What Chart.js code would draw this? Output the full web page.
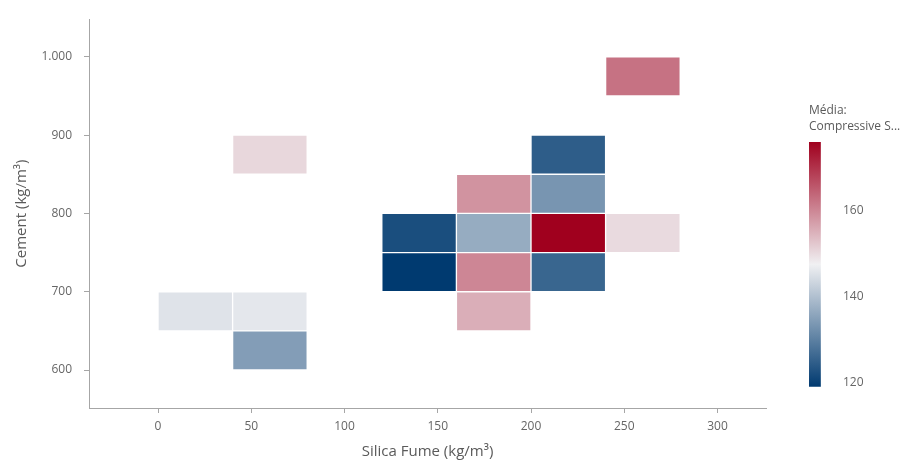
<!DOCTYPE html>
<html>
<head>
<meta charset="utf-8">
<script src="https://cdn.jsdelivr.net/npm/chart.js@4"></script>
<style>
  html, body { margin: 0; padding: 0; background: #ffffff; }
  #wrap { position: relative; width: 901px; height: 461px; background: #ffffff; }
  #main { position: absolute; left: 0; top: 0; }
  #bar { position: absolute; left: 790px; top: 95px; }
</style>
</head>
<body>
<div id="wrap">
  <canvas id="main" width="901" height="461"></canvas>
  <canvas id="bar" width="111" height="310"></canvas>
</div>
<script>
// ---- data ----
const silicaStart = [0, 40, 40, 40, 120, 120, 160, 160, 160, 160, 200, 200, 200, 200, 240, 240];
const cementStart = [650, 650, 600, 850, 750, 700, 800, 750, 700, 650, 850, 800, 750, 700, 750, 950];
const strengthMean = [145.5, 146.1, 134.6, 150.4, 122.2, 119.1, 158.5, 136.9, 160.0, 155.3, 124.5, 133.3, 175.9, 125.9, 150.1, 162.4];
const silicaBinWidth = 40;
const cementBinWidth = 50;
const xTickValues = [0, 50, 100, 150, 200, 250, 300];
const yTickValues = [600, 700, 800, 900, 1000];
const legendTickValues = [120, 140, 160];
const xAxisTitle = 'Silica Fume (kg/m³)';
const yAxisTitle = 'Cement (kg/m³)';
const legendTitle = ['Média:', 'Compressive S...'];

// ---- colour scale ----
const lowColor = [0, 58, 112];
const midColor = [240, 240, 242];
const highColor = [160, 0, 30];
const vMin = Math.min(...strengthMean);
const vMax = Math.max(...strengthMean);
const vMid = (vMin + vMax) / 2;

function mix(a, b, t) {
  return 'rgb(' + a.map((c, i) => Math.round(c + (b[i] - c) * t)).join(',') + ')';
}
function colorFor(v) {
  if (v <= vMid) return mix(midColor, lowColor, (vMid - v) / (vMid - vMin));
  return mix(midColor, highColor, (v - vMid) / (vMax - vMid));
}

const cells = silicaStart.map((s, i) => ({
  x: s + silicaBinWidth / 2,
  y: [cementStart[i], cementStart[i] + cementBinWidth]
}));
const cellColors = strengthMean.map(colorFor);

const FONT = "'Segoe UI', 'Open Sans', sans-serif";
const axisColor = '#a6a6a6';
const tickColor = '#666666';
const titleColor = '#5a5a5a';

function fmt(v) {
  return String(v).replace(/\B(?=(\d{3})+(?!\d))/g, '.');
}
const setTicks = values => scale => { scale.ticks = values.map(v => ({ value: v })); };

new Chart(document.getElementById('main'), {
  type: 'bar',
  data: {
    datasets: [{
      data: cells,
      backgroundColor: cellColors,
      borderColor: 'rgba(255,255,255,0.1)',
      borderWidth: 1,
      borderSkipped: false,
      barPercentage: 1,
      categoryPercentage: 1
    }]
  },
  options: {
    responsive: false,
    animation: false,
    events: [],
    layout: { padding: { top: 14, right: 135, left: 0, bottom: 0 } },
    plugins: { legend: { display: false }, tooltip: { enabled: false } },
    scales: {
      x: {
        type: 'linear',
        min: -37, max: 326,
        offset: false,
        afterBuildTicks: setTicks(xTickValues),
        grid: { display: true, offset: false, drawOnChartArea: false, drawTicks: true, tickLength: 5, color: axisColor },
        border: { display: true, color: axisColor, width: 1 },
        ticks: { color: tickColor, font: { family: FONT, size: 12 }, padding: 6, maxRotation: 0, autoSkip: false },
        title: { display: true, text: xAxisTitle, color: titleColor, font: { family: FONT, size: 15 }, padding: { top: 0, bottom: 0 } },
        afterFit: s => { s.height = 53; }
      },
      y: {
        type: 'linear',
        min: 551.5, max: 1048,
        afterBuildTicks: setTicks(yTickValues),
        grid: { display: true, drawOnChartArea: false, drawTicks: true, tickLength: 5, color: axisColor },
        border: { display: true, color: axisColor, width: 1 },
        ticks: { color: tickColor, font: { family: FONT, size: 12 }, padding: 12, autoSkip: false, callback: v => fmt(v) },
        title: { display: true, text: yAxisTitle, color: titleColor, font: { family: FONT, size: 15 }, padding: { top: 13, bottom: 0 } },
        afterFit: s => { s.width = 89; }
      }
    }
  }
});

// ---- colour bar legend ----
function barGradient(context) {
  const chart = context.chart;
  const area = chart.chartArea;
  if (!area) return 'rgb(240,240,242)';
  const y = chart.scales.y;
  const g = chart.ctx.createLinearGradient(0, y.getPixelForValue(vMin), 0, y.getPixelForValue(vMax));
  g.addColorStop(0, mix(lowColor, lowColor, 0));
  g.addColorStop(0.5, mix(midColor, midColor, 0));
  g.addColorStop(1, mix(highColor, highColor, 0));
  return g;
}

new Chart(document.getElementById('bar'), {
  type: 'bar',
  data: {
    labels: [''],
    datasets: [{
      data: [[vMin, vMax]],
      backgroundColor: barGradient,
      borderWidth: 0,
      barPercentage: 1,
      categoryPercentage: 1
    }]
  },
  options: {
    responsive: false,
    animation: false,
    events: [],
    layout: { padding: { top: 0, left: 19, right: 0, bottom: 14 } },
    plugins: {
      legend: { display: false },
      tooltip: { enabled: false },
      title: {
        display: true,
        text: legendTitle,
        align: 'start',
        color: titleColor,
        font: { family: FONT, size: 12, weight: 'normal', lineHeight: 1.33 },
        padding: { top: 8, bottom: 7 }
      }
    },
    scales: {
      x: { display: false, offset: false },
      y: {
        position: 'right',
        min: vMin, max: vMax,
        z: 1,
        afterBuildTicks: setTicks(legendTickValues),
        grid: { drawTicks: false, color: 'rgba(255,255,255,0.55)', lineWidth: 2 },
        border: { display: false },
        ticks: { color: tickColor, font: { family: FONT, size: 12 }, padding: 11, autoSkip: false },
        afterFit: s => { s.width = 69; }
      }
    }
  }
});
</script>
</body>
</html>
